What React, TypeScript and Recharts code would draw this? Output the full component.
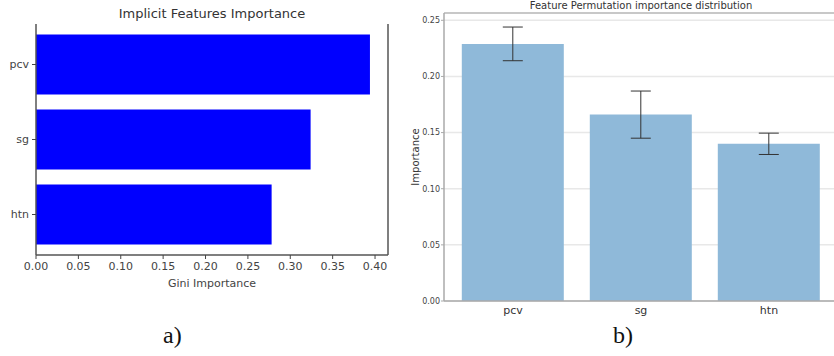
import { BarChart, Bar, XAxis, YAxis, CartesianGrid, ErrorBar, ReferenceLine } from 'recharts'

// left: gini importance (horizontal bars)
const giniFeatures = ['pcv', 'sg', 'htn']
const giniValues = [0.394, 0.324, 0.278]
const giniTicks = [0, 0.05, 0.1, 0.15, 0.2, 0.25, 0.3, 0.35, 0.4]
const giniMax = 0.4153

// right: permutation importance with std error bars
const permFeatures = ['pcv', 'sg', 'htn']
const permValues = [0.229, 0.166, 0.140]
const permErrors = [0.015, 0.021, 0.0095]
const permTicks = [0, 0.05, 0.1, 0.15, 0.2, 0.25]
const permMax = 0.2565

const font = '"DejaVu Sans", sans-serif'

export default function App() {
  const giniData = giniFeatures.map((name, i) => ({ name, value: giniValues[i] }))
  const permData = permFeatures.map((name, i) => ({ name, value: permValues[i], err: permErrors[i] }))

  return (
    <div style={{ position: 'absolute', left: 0, top: 0, width: 834, height: 356, overflow: 'hidden', background: '#fff', fontFamily: font }}>
      {/* a) */}
      <div style={{ position: 'absolute', left: 0, top: 6, width: 424, textAlign: 'center', fontSize: 13, color: '#333' }}>
        Implicit Features Importance
      </div>
      <div style={{ position: 'absolute', left: 0, top: 0 }}>
        <BarChart width={400} height={300} data={giniData} layout="vertical"
          margin={{ top: 24, right: 12, left: 0, bottom: 0 }} barCategoryGap="10%">
          <XAxis type="number" dataKey="value" domain={[0, giniMax]} ticks={giniTicks} allowDataOverflow
            tickFormatter={(v: number) => v.toFixed(2)} height={45}
            tick={{ fontSize: 11, fill: '#444', fontFamily: font }} tickSize={4} tickMargin={3}
            stroke="#444" axisLine={{ stroke: '#555', strokeWidth: 1.5 }}
            label={{ value: 'Gini Importance', position: 'insideBottom', offset: 13, fontSize: 11, fill: '#444', fontFamily: font }} />
          <XAxis xAxisId="top" type="number" orientation="top" domain={[0, giniMax]} height={0}
            tick={false} tickLine={false} axisLine={{ stroke: '#555', strokeWidth: 1.5 }} />
          <YAxis type="category" dataKey="name" width={36} padding={{ top: 3, bottom: 3 }}
            tick={{ fontSize: 11, fill: '#444', fontFamily: font }} tickSize={4} tickMargin={3}
            stroke="#444" axisLine={{ stroke: '#555', strokeWidth: 1.5 }} />
          <ReferenceLine x={giniMax} stroke="#555" strokeWidth={1.5} />
          <Bar dataKey="value" fill="#0000ff" isAnimationActive={false} />
        </BarChart>
      </div>

      {/* b) */}
      <div style={{ position: 'absolute', left: 400, top: 0, width: 482, textAlign: 'center', fontSize: 10, lineHeight: '12px', color: '#333' }}>
        Feature Permutation importance distribution
      </div>
      <div style={{ position: 'absolute', left: 400, top: 0 }}>
        <BarChart width={440} height={320} data={permData}
          margin={{ top: 13, right: 2, left: 0, bottom: 0 }} barCategoryGap="10%">
          <CartesianGrid horizontal vertical={false} stroke="#e8e8e8" strokeWidth={1.5} />
          <XAxis dataKey="name" height={19} padding={{ left: 5, right: 5 }}
            tick={{ fontSize: 11, fill: '#333', fontFamily: font }} tickLine={false} tickSize={0} tickMargin={5}
            axisLine={{ stroke: '#aaa', strokeWidth: 1.5 }} />
          <YAxis type="number" domain={[0, permMax]} ticks={permTicks} allowDataOverflow width={44}
            tickFormatter={(v: number) => v.toFixed(2)}
            tick={{ fontSize: 8, fill: '#444', fontFamily: font }} tickSize={3} tickMargin={1}
            stroke="#aaa" axisLine={{ stroke: '#aaa', strokeWidth: 1.5 }}
            label={{ value: 'Importance', angle: -90, position: 'insideLeft', offset: 15, fontSize: 10, fill: '#333', fontFamily: font, style: { textAnchor: 'middle' } }} />
          <ReferenceLine y={permMax} stroke="#bbb" strokeWidth={1.5} />
          <Bar dataKey="value" fill="#8fb9d9" isAnimationActive={false}>
            <ErrorBar dataKey="err" width={10} stroke="#333" strokeWidth={1} />
          </Bar>
        </BarChart>
      </div>

      <div style={{ position: 'absolute', left: 163, top: 322, fontFamily: '"Liberation Serif", serif', fontSize: 24, color: '#111' }}>a)</div>
      <div style={{ position: 'absolute', left: 613, top: 322, fontFamily: '"Liberation Serif", serif', fontSize: 24, color: '#111' }}>b)</div>
    </div>
  )
}
